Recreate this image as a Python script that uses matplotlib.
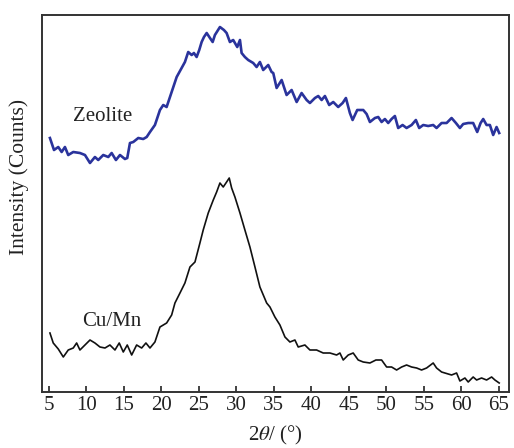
import matplotlib
matplotlib.use("Agg")
import matplotlib.pyplot as plt

plt.rcParams['font.family'] = ['Liberation Serif', 'DejaVu Serif']
plt.rcParams['mathtext.fontset'] = 'stix'

zeolite_2theta = [5.13, 5.67, 6.24, 6.69, 7.13, 7.57, 8.24, 9.13, 9.8, 10.47, 11.13, 11.57, 12.24, 12.91,
                  13.36, 13.93, 14.47, 15.13, 15.44, 15.8, 16.24, 16.91, 17.57, 18.03, 18.47, 19.13, 19.8,
                  20.24, 20.69, 21.36, 22.03, 22.69, 23.13, 23.57, 24.03, 24.33, 24.69, 25.04, 25.36, 25.67,
                  26.03, 26.47, 26.83, 27.13, 27.8, 28.33, 28.69, 29.13, 29.57, 30.11, 30.47, 30.69, 31.13,
                  31.57, 32.24, 32.69, 33.13, 33.57, 34.24, 34.69, 34.91, 35.36, 36.03, 36.69, 37.36, 38.03,
                  38.69, 39.36, 39.8, 40.47, 40.91, 41.36, 41.8, 42.37, 42.91, 43.57, 44.16, 44.6, 45.13,
                  45.49, 46.11, 46.91, 47.36, 47.8, 48.47, 48.91, 49.36, 49.8, 50.24, 50.69, 51.13, 51.57,
                  52.16, 52.69, 53.36, 53.93, 54.37, 54.91, 55.57, 56.24, 56.69, 57.36, 58.03, 58.69, 59.27,
                  59.8, 60.24, 60.91, 61.57, 62.11, 62.56, 62.91, 63.36, 63.8, 64.24, 64.69, 65.04]
zeolite_counts = [262, 250, 253, 248, 253, 245, 248, 247, 245, 237, 243, 240, 245, 243,
                  247, 240, 245, 241, 242, 257, 258, 262, 261, 263, 268, 275, 290,
                  295, 293, 308, 323, 332, 338, 348, 345, 347, 343, 350, 358, 363,
                  367, 362, 358, 365, 373, 370, 367, 358, 360, 353, 360, 347, 343,
                  340, 337, 333, 338, 330, 335, 328, 327, 312, 320, 305, 310, 298,
                  307, 300, 297, 302, 304, 300, 304, 295, 298, 293, 297, 302, 287,
                  280, 290, 290, 286, 278, 282, 283, 278, 281, 277, 281, 284, 272,
                  275, 272, 275, 280, 272, 275, 274, 275, 272, 277, 277, 282, 277,
                  272, 276, 277, 277, 268, 277, 281, 275, 275, 265, 273, 267]

cumn_2theta = [5.13, 5.57, 6.24, 6.91, 7.57, 8.24, 8.69, 9.13, 9.8, 10.47, 11.13, 11.8, 12.47, 13.13,
               13.8, 14.37, 14.91, 15.44, 16.03, 16.69, 17.36, 17.93, 18.47, 19.13, 19.8, 20.69, 21.36,
               21.8, 22.47, 23.13, 23.8, 24.47, 25.13, 25.57, 26.24, 26.91, 27.36, 27.8, 28.24, 28.69,
               29.04, 29.36, 29.8, 30.47, 31.13, 31.8, 32.47, 33.13, 34.03, 34.47, 35.13, 35.8, 36.47,
               37.13, 37.8, 38.24, 39.13, 39.8, 40.69, 41.57, 42.47, 43.36, 43.8, 44.24, 44.91, 45.57,
               46.24, 46.91, 47.8, 48.6, 49.36, 50.03, 50.69, 51.36, 52.03, 52.69, 53.36, 54.03, 54.69,
               55.36, 56.24, 56.69, 57.36, 57.8, 58.69, 59.36, 59.8, 60.47, 60.91, 61.57, 62.03, 62.69,
               63.36, 64.03, 64.47, 65.04]
cumn_counts = [67, 57, 51, 43, 50, 52, 57, 50, 55, 60, 57, 53, 52, 55,
               50, 57, 48, 55, 45, 55, 52, 57, 52, 58, 73, 77, 85,
               97, 107, 117, 133, 138, 157, 170, 187, 200, 208, 217, 213, 218,
               222, 212, 203, 187, 170, 153, 133, 113, 97, 93, 83, 75, 63,
               58, 60, 53, 55, 50, 50, 47, 47, 45, 47, 40, 45, 47,
               40, 38, 37, 40, 40, 33, 33, 30, 33, 35, 33, 32, 30,
               32, 37, 32, 28, 27, 25, 27, 19, 22, 18, 23, 20, 22,
               20, 23, 20, 17]

xticks = [5, 10, 15, 20, 25, 30, 35, 40, 45, 50, 55, 60, 65]
labels = ["Zeolite", "Cu/Mn"]

fig = plt.figure(figsize=(5.14, 4.48), dpi=100)
ax = fig.add_axes([0.0817, 0.125, 0.9083, 0.8415])

ax.plot(zeolite_2theta, zeolite_counts, color='#2a339c', lw=1.9)
ax.plot(cumn_2theta, cumn_counts, color='#111111', lw=1.2)

ax.text(12.2, 284, labels[0], fontsize=15, ha='center', va='center', color='#222222')
ax.text(13.4, 79, labels[1], fontsize=15, ha='center', va='center', color='#222222')

ax.set_xlim(4.07, 66.33)
ax.set_ylim(8, 385)
ax.set_xticks(xticks)
ax.set_xticklabels([str(t) for t in xticks])
ax.set_yticks([])
ax.tick_params(axis='x', direction='in', length=4, width=1.2, pad=3, labelsize=15, colors='#222222')
for s in ax.spines.values():
    s.set_linewidth(1.4)
    s.set_color('#333333')

ax.set_xlabel('2$\\theta$/ (°)', fontsize=15, labelpad=6, color='#222222')
ax.set_ylabel('Intensity (Counts)', fontsize=15.5, color='#222222')
ax.yaxis.set_label_coords(-0.028, 0.57)

fig.savefig('out.png', dpi=100)
